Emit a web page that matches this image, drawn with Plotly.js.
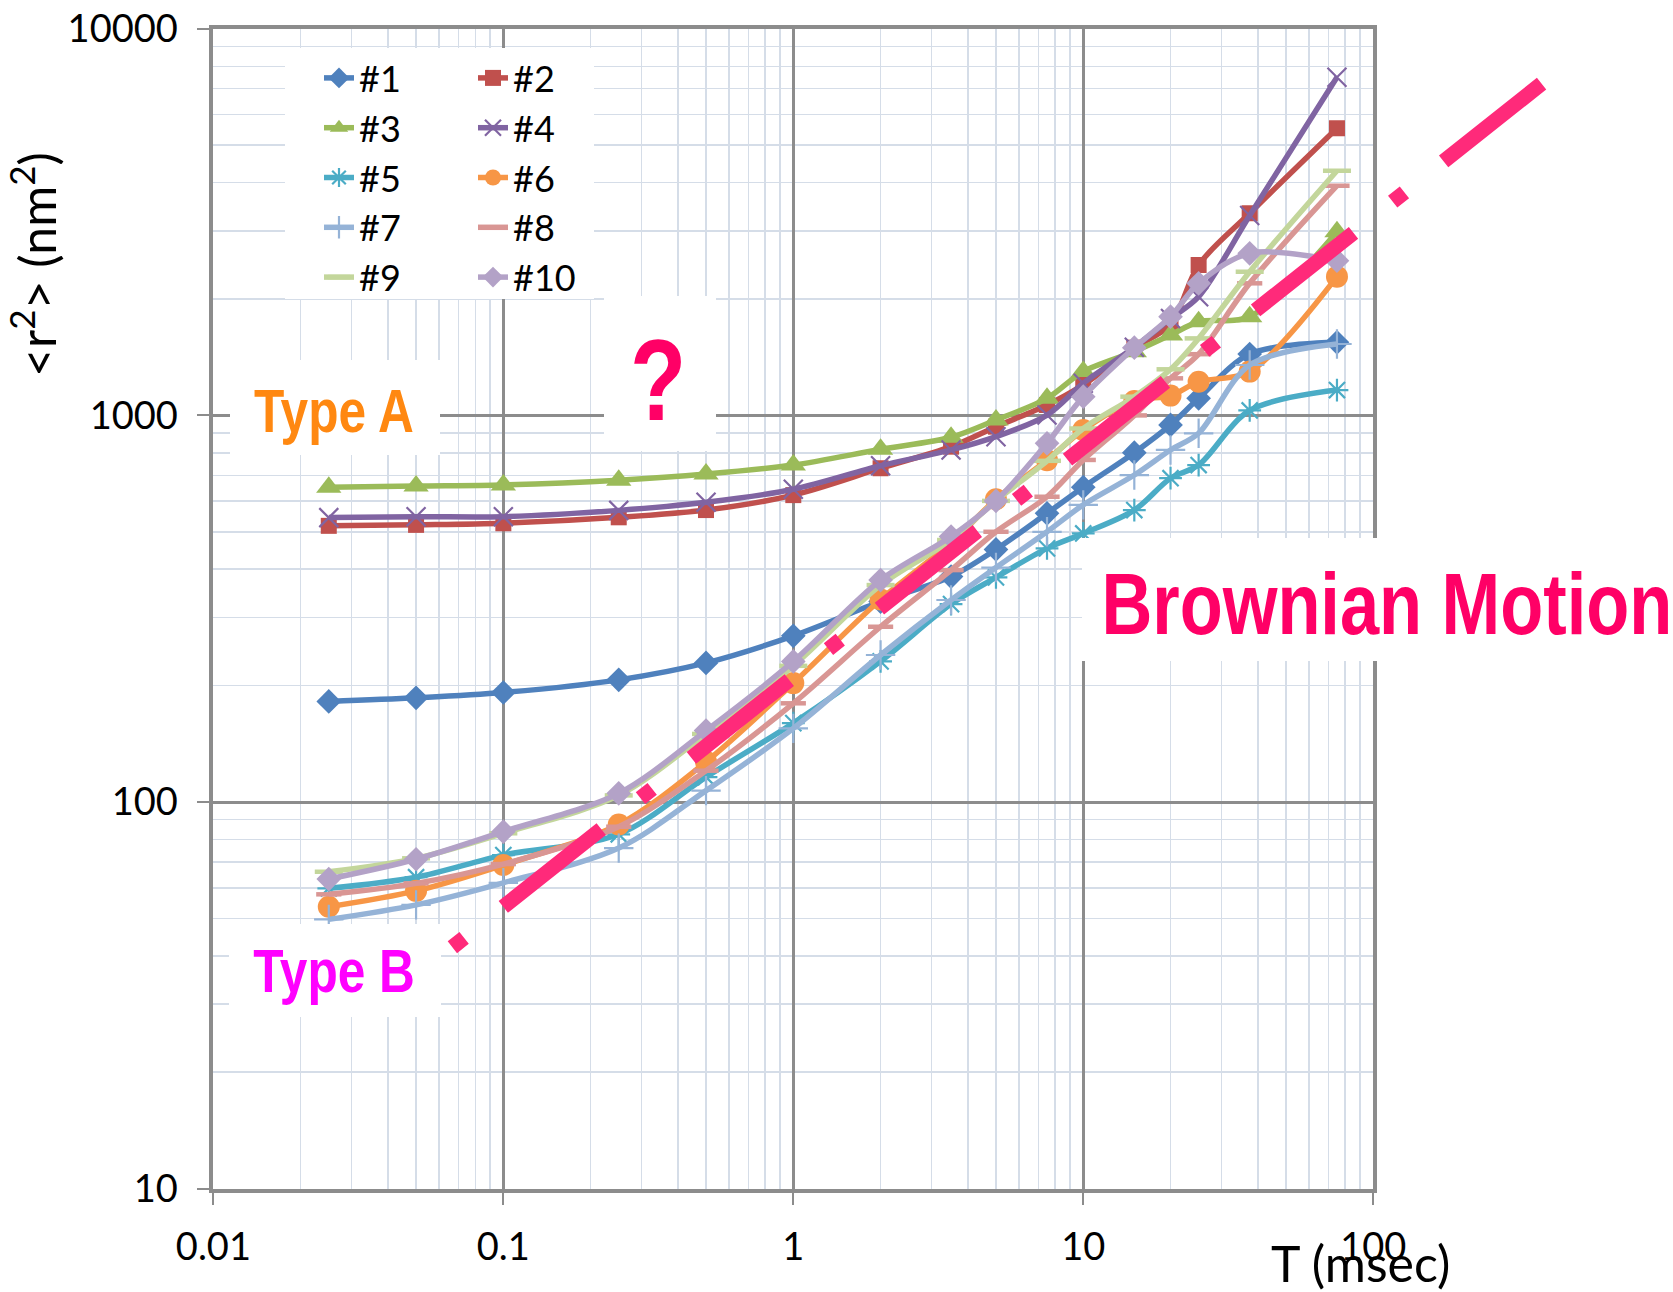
<!DOCTYPE html>
<html>
<head>
<meta charset="utf-8">
<script src="https://cdn.plot.ly/plotly-3.0.1.min.js"></script>
<style>html,body{margin:0;padding:0;background:#fff;}#chart{width:1673px;height:1292px;}</style>
</head>
<body>
<div id="chart"></div>
<script>
// ---------- data ----------
const T = [0.025, 0.05, 0.1, 0.25, 0.5, 1, 2, 3.5, 5, 7.5, 10, 15, 20, 25, 37.5, 75];
const s1  = [182, 186, 192, 207, 229, 269, 330, 383, 450, 558, 652, 801, 945, 1107, 1441, 1545];
const s2  = [518, 521, 526, 545, 569, 622, 730, 830, 935, 1064, 1200, 1497, 1720, 2449, 3332, 5527];
const s3  = [652, 657, 661, 680, 705, 744, 817, 878, 973, 1107, 1298, 1462, 1614, 1747, 1800, 2987];
const s4  = [544, 547, 547, 568, 596, 644, 741, 814, 881, 1002, 1211, 1500, 1780, 2028, 3290, 7490];
const s5  = [59.8, 63.9, 72.9, 82.5, 116, 160, 231, 325, 381, 453, 495, 569, 688, 744, 1030, 1163];
const s6  = [53.6, 58.9, 68.7, 87.5, 127, 203, 334, 468, 607, 766, 917, 1090, 1125, 1222, 1298, 2285];
const s7  = [49.7, 54.2, 61.8, 76, 107, 155, 240, 333, 404, 500, 587, 701, 814, 899, 1350, 1530];
const s8  = [57.7, 61.6, 69.1, 86.3, 120.5, 180, 284, 398, 500, 616, 767, 1000, 1247, 1440, 2196, 3929];
const s9  = [66, 71.5, 83, 104, 150, 225, 364, 476, 601, 763, 925, 1118, 1316, 1582, 2353, 4295];
const s10 = [63.2, 71.1, 83.8, 105.3, 153, 231, 375, 486, 601, 847, 1118, 1497, 1800, 2196, 2626, 2513];
const seriesNames = ['#1','#2','#3','#4','#5','#6','#7','#8','#9','#10'];
// Brownian-motion guide line (end points)
const brownT = [0.0667, 386];
const brownR = [42.1, 7270];
// tick labels
const xTickVals = [0.01, 0.1, 1, 10, 100];
const xTickText = ['0.01', '0.1', '1', '10', '100'];
const yTickVals = [10, 100, 1000, 10000];
const yTickText = ['10', '100', '1000', '10000'];

// ---------- geometry / style ----------
const W = 1673, H = 1292;
const PL = 213.4, PR = 1373.2, PT = 28.8, PB = 1188.6;
const decX = (PR - PL) / 4, decY = (PB - PT) / 3;
const px = v => v / W, py = v => 1 - v / H;

const styles = [
  {c:'#4F81BD', sym:'diamond', size:19},
  {c:'#C0504D', sym:'square', size:16},
  {c:'#9BBB59', sym:'triangle-up', size:22},
  {c:'#8064A2', sym:'x-thin-open', size:19, open:true},
  {c:'#4BACC6', sym:'asterisk-open', size:19, open:true},
  {c:'#F79646', sym:'circle', size:22},
  {c:'#95B3D7', sym:'cross-thin-open', size:21, open:true},
  {c:'#D99694', sym:'line-ew-open', size:18, open:true, lw:4.5},
  {c:'#C3D69B', sym:'line-ew-open', size:20, open:true, lw:4.5},
  {c:'#B3A2C7', sym:'diamond', size:19}
];
const allSeries = [s1, s2, s3, s4, s5, s6, s7, s8, s9, s10];

const traces = allSeries.map((ys, i) => {
  const st = styles[i];
  return {
    type: 'scatter', mode: 'lines+markers', x: T, y: ys, name: seriesNames[i],
    xaxis: 'x', yaxis: 'y',
    legend: (i % 2 === 0) ? 'legend' : 'legend2',
    line: {color: st.c, width: 5.5, shape: 'spline', smoothing: 0.9},
    marker: {symbol: st.sym, size: st.size, color: st.c,
             line: {color: st.c, width: st.open ? (st.lw || 2.2) : 0}},
    hoverinfo: 'x+y+name'
  };
});

traces.push({
  type: 'scatter', mode: 'lines', x: brownT, y: brownR, xaxis: 'x2', yaxis: 'y2',
  showlegend: false, hoverinfo: 'skip',
  line: {color: '#FF2A7A', width: 15, dash: '15px,50px,125px,50px'}
});

const gridGray = '#8C8C8C';
const minorGrid = '#D5DDE8';
const tickFont = {family: 'Lato, "Open Sans", sans-serif', size: 38, color: '#000'};
const narrowFont = '"Liberation Sans Narrow", "Arial Narrow", "Liberation Sans", Arial, sans-serif';

const layout = {
  width: W, height: H, autosize: false,
  margin: {l: 0, r: 0, t: 0, b: 0, pad: 0},
  paper_bgcolor: '#ffffff', plot_bgcolor: 'rgba(0,0,0,0)',
  showlegend: true,
  xaxis: {
    type: 'log', domain: [px(PL), px(PR)], range: [-2, 2], anchor: 'y',
    tickmode: 'array', tickvals: xTickVals, ticktext: xTickText,
    tickfont: tickFont, ticks: 'outside', ticklen: 12, tickwidth: 2, tickcolor: gridGray,
    ticklabelstandoff: 10,
    showline: true, linecolor: gridGray, linewidth: 4, mirror: true,
    showgrid: true, gridcolor: gridGray, gridwidth: 3, zeroline: false,
    minor: {dtick: 'D1', showgrid: true, gridcolor: minorGrid, gridwidth: 1.5, ticks: ''},
    fixedrange: true
  },
  yaxis: {
    type: 'log', domain: [py(PB), py(PT)], range: [1, 4], anchor: 'x',
    tickmode: 'array', tickvals: yTickVals, ticktext: yTickText,
    tickfont: tickFont, ticks: 'outside', ticklen: 12, tickwidth: 2, tickcolor: gridGray,
    ticklabelstandoff: 12,
    showline: true, linecolor: gridGray, linewidth: 4, mirror: true,
    showgrid: true, gridcolor: gridGray, gridwidth: 3, zeroline: false,
    minor: {dtick: 'D1', showgrid: true, gridcolor: minorGrid, gridwidth: 1.5, ticks: ''},
    fixedrange: true
  },
  xaxis2: {
    type: 'log', domain: [0, 1], anchor: 'y2', visible: false, showgrid: false, zeroline: false,
    range: [-2 - PL / decX, 2 + (W - PR) / decX], fixedrange: true
  },
  yaxis2: {
    type: 'log', domain: [0, 1], anchor: 'x2', visible: false, showgrid: false, zeroline: false,
    range: [1 - (H - PB) / decY, 4 + PT / decY], fixedrange: true
  },
  legend: {
    x: px(319), y: py(48), xanchor: 'left', yanchor: 'top',
    bgcolor: 'rgba(0,0,0,0)', borderwidth: 0,
    font: {family: 'Lato, "Open Sans", sans-serif', size: 36, color: '#000'},
    traceorder: 'normal'
  },
  legend2: {
    x: px(473), y: py(48), xanchor: 'left', yanchor: 'top',
    bgcolor: 'rgba(0,0,0,0)', borderwidth: 0,
    font: {family: 'Lato, "Open Sans", sans-serif', size: 36, color: '#000'},
    traceorder: 'normal'
  },
  shapes: [
    [285, 48, 594, 299],
    [230, 360, 440, 455],
    [604, 296, 716, 451],
    [229, 924, 441, 1017],
    [1082, 538, 1673, 661]
  ].map(b => ({
    type: 'rect', xref: 'paper', yref: 'paper', layer: 'above',
    x0: px(b[0]), x1: px(b[2]), y0: py(b[3]), y1: py(b[1]),
    fillcolor: '#ffffff', line: {width: 0}
  })),
  annotations: [
    {text: 'Type A', x: px(334), y: py(410), color: '#FF8811', size: 62},
    {text: '?', x: px(658), y: py(380), color: '#FF0066', size: 115},
    {text: 'Type B', x: px(334), y: py(970), color: '#FF00FF', size: 62},
    {text: 'Brownian Motion', x: px(1387), y: py(603), color: '#FF0066', size: 88}
  ].map(a => ({
    text: a.text, x: a.x, y: a.y, xref: 'paper', yref: 'paper',
    xanchor: 'center', yanchor: 'middle', showarrow: false,
    font: {family: narrowFont, size: a.size, color: a.color, weight: 'bold'}
  })).concat([
    {text: '&lt;r<sup>2</sup>&gt; (nm<sup>2</sup>)', x: px(33), y: py(265), xref: 'paper', yref: 'paper',
     textangle: -90, xanchor: 'center', yanchor: 'middle', showarrow: false,
     font: {family: 'Lato, "Open Sans", sans-serif', size: 50, color: '#000'}},
    {text: 'T (msec)', x: px(1360), y: py(1263), xref: 'paper', yref: 'paper',
     xanchor: 'center', yanchor: 'middle', showarrow: false,
     font: {family: 'Lato, "Open Sans", sans-serif', size: 50, color: '#000'}}
  ])
};

const condensed = ['Type A', '?', 'Type B', 'Brownian Motion'];
Plotly.newPlot('chart', traces, layout, {displayModeBar: false, staticPlot: true}).then(gd => {
  // narrow (condensed) look of the callout labels, as in the original
  gd.querySelectorAll('text.annotation-text').forEach(t => {
    if (condensed.indexOf(t.textContent) >= 0) {
      t.style.transformBox = 'fill-box';
      t.style.transformOrigin = 'center';
      t.style.transform = 'scaleX(0.80)';
    }
  });
});
</script>
</body>
</html>
